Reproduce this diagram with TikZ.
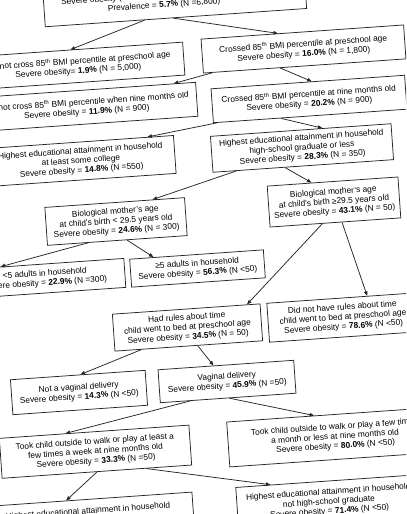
\documentclass[tikz,border=0pt]{standalone}
\usepackage{fontspec}
\setmainfont{Liberation Sans}
\usetikzlibrary{arrows.meta,calc}
\begin{document}
\begin{tikzpicture}[x=1bp,y=-1bp,
  box/.style={draw=black!85, line width=0.75bp, rotate=4, align=center, inner sep=0pt, fill=white, font=\fontsize{8.4}{9.7}\selectfont},
  txt/.style={rotate=4, align=center, inner sep=0pt, font=\fontsize{8.4}{9.7}\selectfont},
  arr/.style={draw=black!85, line width=0.75bp, -{Triangle[length=4.5bp,width=3.5bp]}}]
\useasboundingbox (0,0) rectangle (406,514);
\clip (0,0) rectangle (406,514);
\fill[white] (0,0) rectangle (406,514);

\node[box, anchor=south, minimum width=262bp, minimum height=37bp] (root) at (176,18) {};
\node[txt] (roottext) at ($(root.center)!11bp!(root.west)$)
  {Severe obesity (BMI ≥ 120\% of the 95\textsuperscript{th} BMI percentile)\\Prevalence = \textbf{5.7\%} (N =6,800)};
\node[box, minimum width=212bp, minimum height=33bp] (n1) at (78,66)
  {Did not cross 85\textsuperscript{th} BMI percentile at preschool age\\Severe obesity= \textbf{1.9\%} (N = 5,000)};
\node[box, minimum width=203bp, minimum height=34bp] (n2) at (303.5,49)
  {Crossed 85\textsuperscript{th} BMI percentile at preschool age\\Severe obesity = \textbf{16.0\%} (N = 1,800)};
\node[box, minimum width=221bp, minimum height=34bp] (n3) at (86.5,107)
  {Did not cross 85\textsuperscript{th} BMI percentile when nine months old\\Severe obesity = \textbf{11.9\%} (N = 900)};
\node[box, minimum width=194bp, minimum height=34bp] (n4) at (309,99)
  {Crossed 85\textsuperscript{th} BMI percentile at nine months old\\Severe obesity = \textbf{20.2\%} (N = 900)};
\node[box, minimum width=188bp, minimum height=38bp] (n5) at (81,161)
  {Highest educational attainment in household\\at least some college\\Severe obesity = \textbf{14.8\%} (N =550)};
\node[box, minimum width=181bp, minimum height=36bp] (n6) at (302,148)
  {Highest educational attainment in household\\high-school graduate or less\\Severe obesity = \textbf{28.3\%} (N = 350)};
\node[box, minimum width=140bp, minimum height=38bp] (n7) at (116,221.5)
  {Biological mother's age\\at child's birth < 29.5 years old\\Severe obesity = \textbf{24.6\%} (N = 300)};
\node[box, minimum width=131bp, minimum height=41bp] (n8) at (334,202)
  {Biological mother's age\\at child's birth ≥29.5 years old\\Severe obesity = \textbf{43.1\%} (N = 50)};
\node[box, minimum width=160bp, minimum height=29bp] (n9) at (45,278.5)
  {<5 adults in household\\Severe obesity = \textbf{22.9\%} (N =300)};
\node[box, minimum width=134bp, minimum height=28bp] (n10) at (197.5,268.5)
  {≥5 adults in household\\Severe obesity = \textbf{56.3\%} (N <50)};
\node[box, minimum width=148bp, minimum height=37bp] (n11) at (187.5,327.5)
  {Had rules about time\\child went to bed at preschool age\\Severe obesity = \textbf{34.5\%} (N = 50)};
\node[box, minimum width=150bp, minimum height=39bp] (n12) at (343,317.5)
  {Did not have rules about time\\child went to bed at preschool age\\Severe obesity = \textbf{78.6\%} (N <50)};
\node[box, minimum width=135bp, minimum height=35bp] (n13) at (79,392.5)
  {Not a vaginal delivery\\Severe obesity = \textbf{14.3\%} (N <50)};
\node[box, minimum width=136bp, minimum height=33bp] (n14) at (227,381.5)
  {Vaginal delivery\\Severe obesity = \textbf{45.9\%} (N =50)};
\node[box, minimum width=190bp, minimum height=40bp] (n15) at (95.5,451.7)
  {Took child outside to walk or play at least a\\few times a week at nine months old\\Severe obesity = \textbf{33.3\%} (N =50)};
\node[box, minimum width=214bp, minimum height=45bp] (n16) at (335,437)
  {Took child outside to walk or play a few times\\a month or less at nine months old\\Severe obesity = \textbf{80.0\%} (N <50)};
\node[box, minimum width=210bp, minimum height=24bp] (n17) at (88,511.4)
  {Highest educational attainment in household};
\node[box, minimum width=184bp, minimum height=42bp] (n18) at (329,502)
  {Highest educational attainment in household\\not high-school graduate\\Severe obesity = \textbf{71.4\%} (N <50)};

\draw[arr] ($(root.south west)!0.38!(root.south east)$) -- ($(n1.north west)!0.47!(n1.north east)$);
\draw[arr] ($(root.south west)!0.49!(root.south east)$) -- ($(n2.north west)!0.38!(n2.north east)$);
\draw[arr] ($(n2.south west)!0.045!(n2.south east)$) -- ($(n3.north west)!0.90!(n3.north east)$);
\draw[arr] ($(n2.south west)!0.38!(n2.south east)$) -- ($(n4.north west)!0.52!(n4.north east)$);
\draw[arr] ($(n4.south west)!0.02!(n4.south east)$) -- ($(n5.north west)!0.86!(n5.north east)$);
\draw[arr] ($(n4.south west)!0.35!(n4.south east)$) -- ($(n6.north west)!0.62!(n6.north east)$);
\draw[arr] ($(n6.south west)!0.13!(n6.south east)$) -- ($(n7.north west)!0.77!(n7.north east)$);
\draw[arr] ($(n6.south west)!0.40!(n6.south east)$) -- ($(n8.north west)!0.34!(n8.north east)$);
\draw[arr] ($(n7.south west)!0.29!(n7.south east)$) -- ($(n9.north west)!0.23!(n9.north east)$);
\draw[arr] ($(n7.south west)!0.57!(n7.south east)$) -- ($(n10.north west)!0.18!(n10.north east)$);
\draw[arr] ($(n8.south west)!0.40!(n8.south east)$) -- ($(n11.north west)!0.91!(n11.north east)$);
\draw[arr] ($(n8.south west)!0.55!(n8.south east)$) -- ($(n12.north west)!0.67!(n12.north east)$);
\draw[arr] ($(n11.south west)!0.18!(n11.south east)$) -- ($(n13.north west)!0.52!(n13.north east)$);
\draw[arr] ($(n11.south west)!0.56!(n11.south east)$) -- ($(n14.north west)!0.41!(n14.north east)$);
\draw[arr] ($(n14.south west)!0.22!(n14.south east)$) -- ($(n15.north west)!0.35!(n15.north east)$);
\draw[arr] ($(n14.south west)!0.51!(n14.south east)$) -- ($(n16.north west)!0.41!(n16.north east)$);
\draw[arr] ($(n15.south west)!0.50!(n15.south east)$) -- ($(n17.north west)!0.40!(n17.north east)$);
\draw[arr] ($(n15.south west)!0.76!(n15.south east)$) -- ($(n18.north west)!0.19!(n18.north east)$);
\end{tikzpicture}
\end{document}
